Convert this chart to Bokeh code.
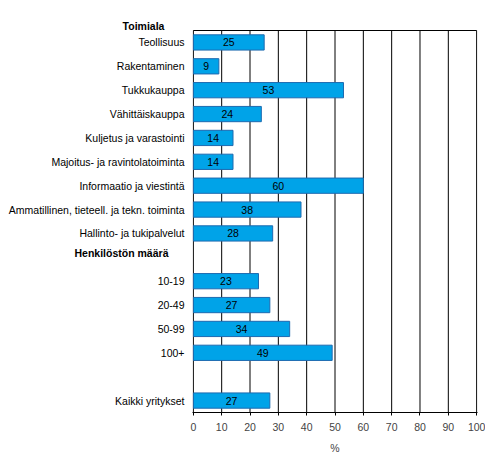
from bokeh.plotting import figure
from bokeh.models import Range1d, FixedTicker, ColumnDataSource
from bokeh.layouts import row
from bokeh.core.properties import value
from bokeh.embed import file_html
from bokeh.resources import INLINE

categories = ["Teollisuus", "Rakentaminen", "Tukkukauppa", "Vähittäiskauppa",
              "Kuljetus ja varastointi", "Majoitus- ja ravintolatoiminta",
              "Informaatio ja viestintä", "Ammatillinen, tieteell. ja tekn. toiminta",
              "Hallinto- ja tukipalvelut",
              "10-19", "20-49", "50-99", "100+",
              "Kaikki yritykset"]
values = [25, 9, 53, 24, 14, 14, 60, 38, 28, 23, 27, 34, 49, 27]
rows = [0, 1, 2, 3, 4, 5, 6, 7, 8, 10, 11, 12, 13, 15]
headers = ["Toimiala", "Henkilöstön määrä"]
header_rows = [-0.69, 8.8]
x_ticks = [0, 10, 20, 30, 40, 50, 60, 70, 80, 90, 100]

FONT = "Liberation Sans"
FS = "10.5px"
ROW_PX = 382 / 16.0
Y_TOP = -0.5 - 22 / ROW_PX      # extra space above the chart frame for the header
y_rng = Range1d(15.5, Y_TOP)

# ---- left panel: category labels and group headers ----
left = figure(width=185, height=465, output_backend="svg", toolbar_location=None,
              x_range=Range1d(0, 185), y_range=y_rng,
              min_border_left=0, min_border_right=0, min_border_top=8, min_border_bottom=53)
left.axis.visible = False
left.grid.grid_line_color = None
left.outline_line_color = None
left.border_fill_color = "white"
left.background_fill_color = "white"

lsrc = ColumnDataSource(dict(y=rows, t=categories))
left.text(x=184, y="y", text="t", source=lsrc, text_align="right", text_baseline="middle",
          text_font=value(FONT), text_font_size=FS, text_color="black")
hsrc = ColumnDataSource(dict(y=header_rows, t=headers, x=[143, 121]))
left.text(x="x", y="y", text="t", source=hsrc, text_align="center", text_baseline="middle",
          text_font=value(FONT), text_font_size=FS, text_font_style="bold", text_color="black")

# ---- main panel: bars ----
p = figure(width=300, height=465, output_backend="svg", toolbar_location=None,
           x_range=Range1d(-0.3, 100.3), y_range=y_rng,
           min_border_left=7, min_border_right=8, min_border_top=8, min_border_bottom=53)

# chart box and vertical grid lines (from the x tick values)
p.segment(x0=x_ticks, y0=[-0.5] * len(x_ticks), x1=x_ticks, y1=[15.5] * len(x_ticks),
          line_color="black", line_width=1)
p.segment(x0=[x_ticks[0]], y0=[-0.5], x1=[x_ticks[-1]], y1=[-0.5],
          line_color="black", line_width=1)

src = ColumnDataSource(dict(y=rows, v=values, mid=[v / 2 for v in values],
                            t=[str(v) for v in values]))
p.hbar(y="y", left=0, right="v", height=0.64, source=src,
       fill_color="#00A3E8", line_color="#1D6AB0", line_width=1)
p.text(x="mid", y="y", text="t", source=src, text_align="center", text_baseline="middle",
       text_font=value(FONT), text_font_size=FS, text_color="black")

p.yaxis.visible = False
p.xaxis.ticker = FixedTicker(ticks=x_ticks)
p.xaxis.axis_label = "%"
p.xaxis.axis_label_text_font = FONT
p.xaxis.axis_label_text_font_style = "normal"
p.xaxis.axis_label_text_font_size = FS
p.xaxis.axis_label_standoff = 8
p.xaxis.major_label_text_font = FONT
p.xaxis.major_label_text_font_size = FS
p.xaxis.major_tick_out = 3
p.xaxis.major_tick_in = 0
p.xaxis.minor_tick_line_color = None
p.xaxis.axis_line_color = "black"
p.xaxis.major_tick_line_color = "black"
p.xaxis.major_label_standoff = 7

p.grid.grid_line_color = None
p.outline_line_color = None
p.background_fill_color = "white"
p.border_fill_color = "white"

layout = row(left, p, spacing=0)
open("out.html", "w").write(file_html(layout, INLINE))
